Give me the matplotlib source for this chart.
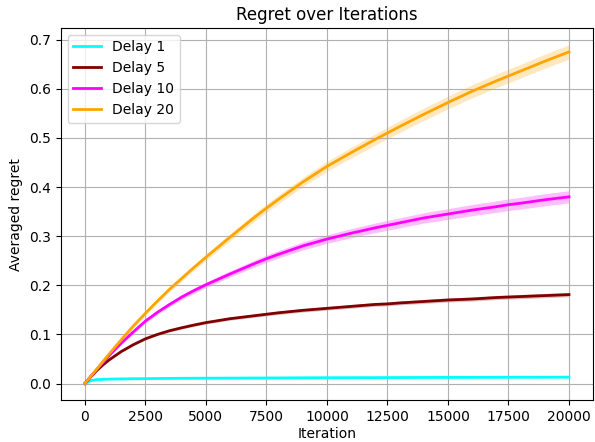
import matplotlib
matplotlib.use("Agg")
import matplotlib.pyplot as plt
import numpy as np

# Sampled iterations shared by all runs
iterations = [0, 250, 500, 750, 1000, 1500, 2000, 2500, 3000, 3500, 4000, 4500,
              5000, 6000, 7000, 7500, 8000, 9000, 10000, 11000, 12000, 12500,
              13000, 14000, 15000, 16000, 17000, 17500, 18000, 19000, 20000]

# Mean averaged regret per delay setting
delay1_mean = [0.0, 0.006, 0.008, 0.0085, 0.009, 0.0094, 0.0097, 0.010, 0.0102,
               0.0104, 0.0106, 0.0107, 0.0108, 0.011, 0.0112, 0.0113, 0.0114,
               0.0116, 0.0118, 0.0119, 0.012, 0.0121, 0.0122, 0.0123, 0.0124,
               0.0125, 0.0126, 0.0127, 0.0127, 0.0128, 0.013]
delay5_mean = [0.0, 0.014, 0.027, 0.038, 0.048, 0.065, 0.079, 0.091, 0.100,
               0.1075, 0.1135, 0.119, 0.124, 0.132, 0.138, 0.141, 0.144, 0.149,
               0.153, 0.157, 0.161, 0.162, 0.164, 0.167, 0.170, 0.172, 0.175,
               0.176, 0.177, 0.179, 0.181]
delay10_mean = [0.0, 0.015, 0.029, 0.043, 0.057, 0.082, 0.105, 0.127, 0.145,
                0.161, 0.176, 0.189, 0.201, 0.223, 0.244, 0.254, 0.263, 0.280,
                0.294, 0.306, 0.317, 0.322, 0.327, 0.337, 0.345, 0.353, 0.360,
                0.364, 0.367, 0.374, 0.380]
delay20_mean = [0.0, 0.015, 0.030, 0.045, 0.060, 0.089, 0.117, 0.143, 0.168,
                0.192, 0.214, 0.236, 0.257, 0.298, 0.338, 0.357, 0.375, 0.410,
                0.442, 0.470, 0.497, 0.510, 0.523, 0.548, 0.572, 0.595, 0.616,
                0.626, 0.636, 0.656, 0.675]

# Half-width of the shaded spread around each mean
delay1_spread = [0.0, 0.0004, 0.0005, 0.0005, 0.0006, 0.0006, 0.0006, 0.0007,
                 0.0007, 0.0007, 0.0007, 0.0008, 0.0008, 0.0008, 0.0008, 0.0008,
                 0.0009, 0.0009, 0.0009, 0.0009, 0.0009, 0.0009, 0.001, 0.001,
                 0.001, 0.001, 0.001, 0.001, 0.001, 0.001, 0.001]
delay5_spread = [0.0, 0.0008, 0.001, 0.0012, 0.0014, 0.0016, 0.0018, 0.002,
                 0.0022, 0.0024, 0.0025, 0.0027, 0.0028, 0.003, 0.0032, 0.0033,
                 0.0034, 0.0035, 0.0036, 0.0037, 0.0038, 0.0039, 0.0039, 0.004,
                 0.0041, 0.0042, 0.0042, 0.0043, 0.0043, 0.0044, 0.0044]
delay10_spread = [0.0, 0.001, 0.0013, 0.0017, 0.002, 0.0025, 0.003, 0.0035,
                  0.004, 0.0045, 0.005, 0.0053, 0.0057, 0.0063, 0.007, 0.0073,
                  0.0076, 0.0082, 0.0088, 0.0093, 0.0098, 0.01, 0.0102, 0.0106,
                  0.011, 0.0114, 0.0117, 0.0119, 0.012, 0.0123, 0.0125]
delay20_spread = [0.0, 0.001, 0.0015, 0.002, 0.0025, 0.003, 0.0035, 0.004,
                  0.0045, 0.005, 0.0055, 0.006, 0.0065, 0.0072, 0.008, 0.0085,
                  0.0088, 0.0095, 0.0102, 0.0108, 0.0114, 0.0117, 0.012, 0.0125,
                  0.013, 0.0134, 0.0137, 0.0139, 0.014, 0.0143, 0.0145]

labels = ["Delay 1", "Delay 5", "Delay 10", "Delay 20"]
colors = ["cyan", "maroon", "magenta", "orange"]
means = [delay1_mean, delay5_mean, delay10_mean, delay20_mean]
spreads = [delay1_spread, delay5_spread, delay10_spread, delay20_spread]

fig = plt.figure(figsize=(5.95, 4.42), dpi=100)
ax = fig.add_axes([0.102, 0.094, 0.895, 0.843])

x = np.array(iterations)
for label, color, m, s in zip(labels, colors, means, spreads):
    m = np.array(m)
    s = np.array(s)
    ax.plot(x, m, color=color, lw=2, label=label)
    ax.fill_between(x, m - s, m + s, color=color, alpha=0.25, lw=0)

ax.set_title("Regret over Iterations")
ax.set_xlabel("Iteration", labelpad=2)
ax.set_ylabel("Averaged regret")
ax.set_xticks([0, 2500, 5000, 7500, 10000, 12500, 15000, 17500, 20000])
ax.grid(True)
ax.legend(loc="upper left")

fig.savefig("out.png", dpi=100)
